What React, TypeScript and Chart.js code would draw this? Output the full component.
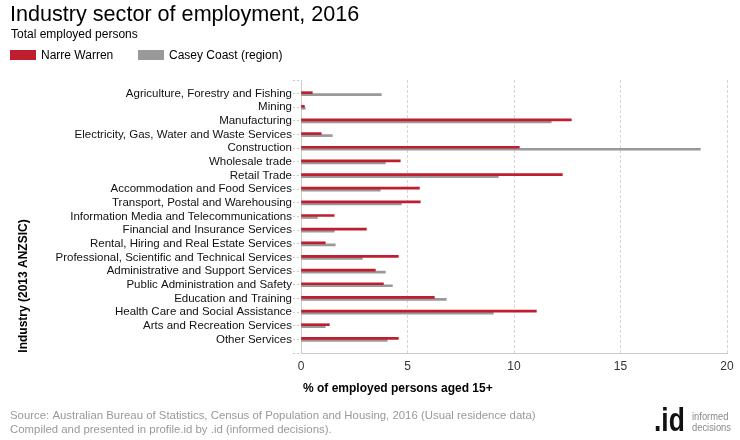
import { useEffect, useRef } from 'react';
import { Chart, registerables } from 'chart.js';

Chart.register(...registerables);

const categories = [
  'Agriculture, Forestry and Fishing',
  'Mining',
  'Manufacturing',
  'Electricity, Gas, Water and Waste Services',
  'Construction',
  'Wholesale trade',
  'Retail Trade',
  'Accommodation and Food Services',
  'Transport, Postal and Warehousing',
  'Information Media and Telecommunications',
  'Financial and Insurance Services',
  'Rental, Hiring and Real Estate Services',
  'Professional, Scientific and Technical Services',
  'Administrative and Support Services',
  'Public Administration and Safety',
  'Education and Training',
  'Health Care and Social Assistance',
  'Arts and Recreation Services',
  'Other Services',
];

const narreWarren = [0.53, 0.16, 12.69, 0.95, 10.25, 4.66, 12.27, 5.56, 5.6, 1.56, 3.07, 1.14, 4.57, 3.49, 3.87, 6.26, 11.05, 1.33, 4.57];
const caseyCoast = [3.77, 0.2, 11.75, 1.47, 18.75, 3.96, 9.26, 3.72, 4.71, 0.77, 1.56, 1.61, 2.88, 3.96, 4.29, 6.82, 9.03, 1.14, 4.05];

const seriesNames = ['Narre Warren', 'Casey Coast (region)'];
const xTickValues = [0, 5, 10, 15, 20];

const RED = '#BE1E2D';
const GREY = '#999999';
const FONT = "'Liberation Sans', Arial, sans-serif";

const textPlugin = {
  id: 'texts',
  beforeDraw(chart: any) {
    const ctx = chart.ctx;
    ctx.save();
    ctx.fillStyle = '#ffffff';
    ctx.fillRect(0, 0, chart.width, chart.height);
    ctx.restore();
  },
  afterDraw(chart: any) {
    const ctx = chart.ctx;
    ctx.save();
    ctx.textBaseline = 'alphabetic';
    ctx.textAlign = 'left';
    // title
    ctx.fillStyle = '#000';
    ctx.font = `21.6px ${FONT}`;
    ctx.fillText('Industry sector of employment, 2016', 10, 21);
    // subtitle
    ctx.font = `12px ${FONT}`;
    ctx.fillStyle = '#000';
    ctx.fillText('Total employed persons', 11, 38);
    // legend
    ctx.fillStyle = RED;
    ctx.fillRect(10, 50, 26, 10);
    ctx.fillStyle = '#000';
    ctx.font = `12px ${FONT}`;
    ctx.fillText(seriesNames[0], 41, 59);
    ctx.fillStyle = GREY;
    ctx.fillRect(138, 50, 26, 10);
    ctx.fillStyle = '#000';
    ctx.fillText(seriesNames[1], 169, 59);
    // x title
    ctx.font = `bold 12px ${FONT}`;
    ctx.fillText('% of employed persons aged 15+', 303, 392);
    // y title
    ctx.save();
    ctx.translate(27, 286);
    ctx.rotate(-Math.PI / 2);
    ctx.textAlign = 'center';
    ctx.fillText('Industry (2013 ANZSIC)', 0, 0);
    ctx.restore();
    // footer
    ctx.fillStyle = '#999';
    ctx.font = `11.4px ${FONT}`;
    ctx.fillText('Source: Australian Bureau of Statistics, Census of Population and Housing, 2016 (Usual residence data)', 10, 419);
    ctx.fillText('Compiled and presented in profile.id by .id (informed decisions).', 10, 433);
    // logo
    ctx.save();
    ctx.translate(654, 431);
    ctx.scale(0.8, 1);
    ctx.fillStyle = '#111';
    ctx.font = `bold 33px ${FONT}`;
    ctx.fillText('.id', 0, 0);
    ctx.restore();
    ctx.save();
    ctx.translate(692, 420);
    ctx.scale(0.85, 1);
    ctx.fillStyle = '#8a8a8a';
    ctx.font = `11px ${FONT}`;
    ctx.fillText('informed', 0, 0);
    ctx.fillText('decisions', 0, 11);
    ctx.restore();
    ctx.restore();
  },
};

export default function App() {
  const ref = useRef<HTMLCanvasElement | null>(null);

  useEffect(() => {
    if (!ref.current) return;
    const chart = new Chart(ref.current, {
      type: 'bar',
      data: {
        datasets: [
          {
            label: seriesNames[0],
            data: categories.map((_, i) => ({ x: narreWarren[i], y: i })) as any,
            backgroundColor: RED,
            barThickness: 2,
            borderWidth: 0,
          },
          {
            label: seriesNames[1],
            data: categories.map((_, i) => ({ x: caseyCoast[i], y: i })) as any,
            backgroundColor: GREY,
            barThickness: 2,
            borderWidth: 0,
          },
        ],
      },
      options: {
        indexAxis: 'y',
        responsive: false,
        animation: false,
        devicePixelRatio: 1,
        layout: { padding: { top: 80, right: 13, left: 0, bottom: 0 } },
        plugins: {
          legend: { display: false },
          tooltip: { enabled: false },
          title: { display: false },
        },
        scales: {
          x: {
            type: 'linear',
            position: 'bottom',
            min: 0,
            max: 20,
            offset: false,
            afterBuildTicks: (scale: any) => {
              scale.ticks = xTickValues.map((v) => ({ value: v }));
            },
            afterFit: (scale: any) => {
              scale.height = 87;
            },
            ticks: {
              color: '#333',
              font: { family: FONT, size: 12 },
              padding: 6,
            },
            grid: {
              color: '#d6d6d6',
              drawTicks: false,
              lineWidth: 1,
              offset: false,
            },
            border: { display: true, color: '#cccccc', dash: [3, 2] },
          },
          y: {
            type: 'linear',
            reverse: true,
            min: -1,
            max: 19,
            offset: false,
            afterBuildTicks: (scale: any) => {
              const arr = [];
              for (let i = -1; i <= categories.length; i++) arr.push({ value: i });
              scale.ticks = arr;
            },
            afterFit: (scale: any) => {
              scale.width = 301;
            },
            ticks: {
              autoSkip: false,
              color: '#111',
              font: { family: FONT, size: 11.5 },
              padding: 1,
              callback: (v: any) => {
                const i = Number(v);
                return i >= 0 && i < categories.length ? categories[i] : '';
              },
            },
            grid: {
              drawOnChartArea: false,
              drawTicks: true,
              tickLength: 8,
              tickColor: '#c8c8c8',
              tickBorderDash: [2, 2],
              offset: false,
            },
            border: { display: true, color: '#cccccc' },
          },
        },
      } as any,
      plugins: [textPlugin],
    });
    return () => chart.destroy();
  }, []);

  return (
    <div style={{ position: 'absolute', left: 0, top: 0, width: 740, height: 440 }}>
      <canvas ref={ref} width={740} height={440} style={{ width: 740, height: 440, display: 'block' }} />
    </div>
  );
}
